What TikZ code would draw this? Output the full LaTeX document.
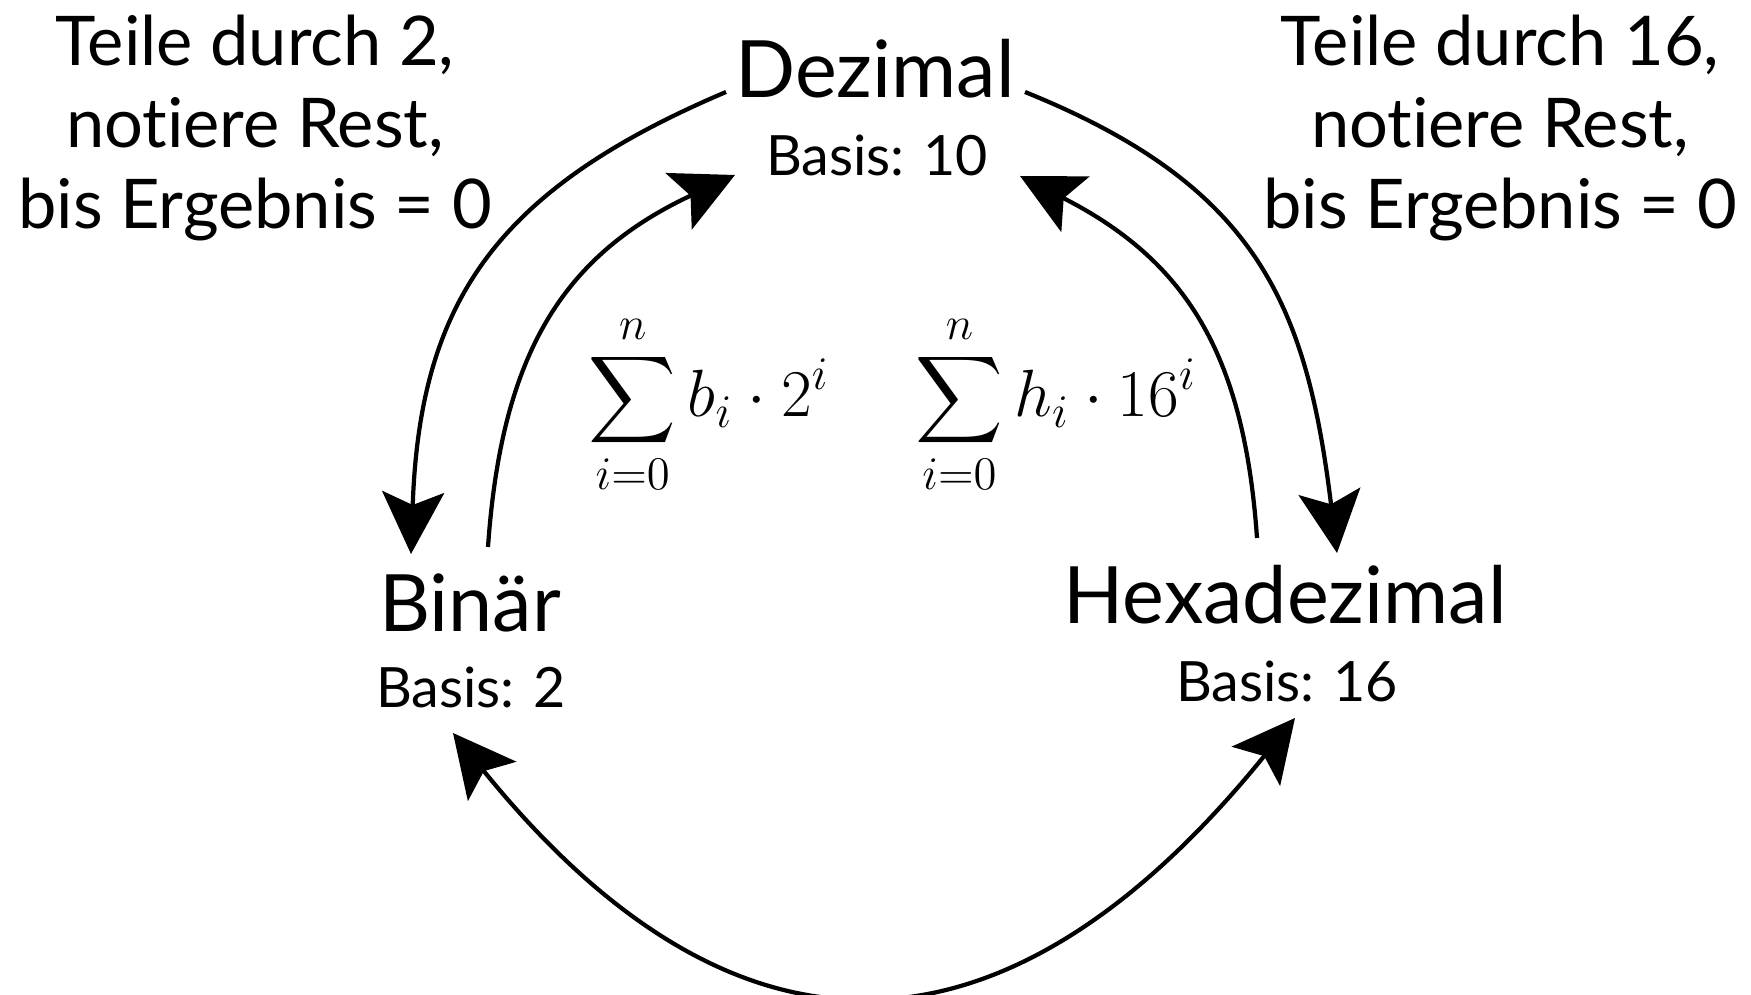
\RequirePackage{fix-cm}
\documentclass[tikz,border=0pt]{standalone}
\usepackage[no-math]{fontspec}
\setmainfont[Ligatures=NoCommon]{Lato}
\usepackage{amsmath}
\usepackage{tikz}
\usetikzlibrary{positioning,arrows.meta,calc}

\begin{document}
\begin{tikzpicture}[
  x=0.01cm, y=0.01cm,
  every node/.style={inner sep=0pt},
  sysname/.style={anchor=base, font=\fontsize{22.5}{27}\selectfont},
  sysbase/.style={anchor=base, font=\fontsize{15.8}{19}\selectfont},
  howto/.style={anchor=base, align=center, font=\fontsize{19.5}{23.3}\selectfont},
  sumlabel/.style={anchor=base, font=\fontsize{19}{23}\selectfont},
  conv/.style={-{Stealth[length=6.2mm, width=6.2mm, inset=1.3mm]}, line width=1.2pt},
  convboth/.style={{Stealth[length=6.2mm, width=6.2mm, inset=1.3mm]}-{Stealth[length=6.2mm, width=6.2mm, inset=1.3mm]}, line width=1.2pt}
]
  \useasboundingbox (0,0) rectangle (1751,-995);

  % number systems
  \node[sysname] (dez)  at (875,-98)  {Dezimal};
  \node[sysbase] (dezb) at (877,-176) {Basis: 10};
  \node[sysname] (bin)  at (470,-632) {Binär};
  \node[sysbase] (binb) at (471,-708) {Basis: 2};
  \node[sysname] (hex)  at (1285,-624) {Hexadezimal};
  \node[sysbase] (hexb) at (1287,-702) {Basis: 16};

  % conversion rules (base = last line)
  \node[howto] (divbin) at (255,-229)  {Teile durch 2,\\notiere Rest,\\bis Ergebnis = 0};
  \node[howto] (divhex) at (1500,-229) {Teile durch 16,\\notiere Rest,\\bis Ergebnis = 0};
  \node[sumlabel] (sumbin) at (709,-417) {$\displaystyle\sum_{i=0}^{n} b_i \cdot 2^i$};
  \node[sumlabel] (sumhex) at (1056,-417) {$\displaystyle\sum_{i=0}^{n} h_i \cdot 16^i$};

  % arrows
  \draw[conv] ($(dez.base)+(-149,6)$) to[out=203, in=88, looseness=1.15] ($(bin.base)+(-59,78)$);
  \draw[conv] ($(bin.base)+(18,85)$) to[out=86, in=205, looseness=1.1] ($(dezb.base)+(-142,1)$);
  \draw[conv] ($(dez.base)+(150,6)$) to[out=-22, in=97, looseness=1.15] ($(hex.base)+(52,71)$);
  \draw[conv] ($(hex.base)+(-28,86)$) to[out=94, in=-27, looseness=1.1] ($(dezb.base)+(143,0)$);
  \draw[convboth] ($(binb.base)+(-18,-25)$) to[out=-51, in=-129, looseness=1.38] ($(hexb.base)+(8,-16)$);
\end{tikzpicture}
\end{document}
